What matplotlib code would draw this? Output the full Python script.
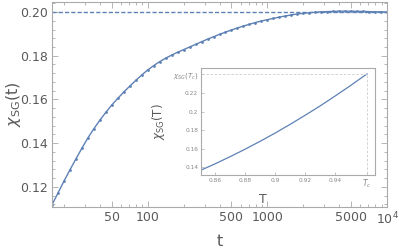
import numpy as np
import matplotlib
matplotlib.use('Agg')
import matplotlib.pyplot as plt
from matplotlib.ticker import FixedLocator, NullFormatter

plt.rcParams['font.family'] = ['DejaVu Sans']
plt.rcParams['mathtext.fontset'] = 'dejavusans'

# main curve: chi_SG(t)
t = [15.85, 17.78, 19.95, 22.39, 25.12, 28.18, 31.62, 35.48, 39.81, 44.67,
     50.12, 56.23, 63.10, 70.79, 79.43, 89.13, 100.0, 112.2, 125.9, 141.3,
     158.5, 177.8, 199.5, 223.9, 251.2, 281.8, 316.2, 354.8, 398.1, 446.7,
     501.2, 562.3, 631.0, 707.9, 794.3, 891.3, 1000, 1122, 1259, 1413,
     1585, 1778, 1995, 2239, 2512, 2818, 3162, 3548, 3981, 4467,
     5012, 5623, 6310, 7079, 7943, 8913, 10000]
chi_t = [0.1118, 0.1172, 0.1226, 0.1278, 0.1328, 0.1377, 0.1424, 0.1466, 0.1505, 0.1541,
         0.1575, 0.1605, 0.1634, 0.1661, 0.1687, 0.1712, 0.1735, 0.1755, 0.1773, 0.1789,
         0.1803, 0.1816, 0.1828, 0.1840, 0.1852, 0.1864, 0.1876, 0.1887, 0.1898, 0.1908,
         0.1918, 0.1927, 0.1936, 0.1944, 0.1952, 0.1959, 0.1965, 0.1971, 0.1977, 0.1982,
         0.1987, 0.1991, 0.1994, 0.1997, 0.1999, 0.2001, 0.2002, 0.2003, 0.2004, 0.2004,
         0.2004, 0.2003, 0.2003, 0.2002, 0.2001, 0.2001, 0.2000]
chi_inf = 0.20

# inset: chi_SG(T)
T = [0.851, 0.86, 0.87, 0.88, 0.89, 0.90, 0.91, 0.92, 0.93, 0.94, 0.95, 0.96, 0.9615]
chi_T = [0.1369, 0.1434, 0.1511, 0.1592, 0.1677, 0.1766, 0.1860, 0.1958, 0.2059,
         0.2166, 0.2276, 0.2391, 0.2405]
Tc = 0.9615
chi_Tc = 0.2405

blue = '#5E81B5'
grey = '#5A5A5A'
frame = '#AAAAAA'

fig = plt.figure(figsize=(3.99, 2.49), dpi=100)
ax = fig.add_axes([0.1303, 0.1687, 0.8397, 0.8233])

ax.axhline(chi_inf, color=blue, lw=1.0, ls=(0, (3, 1.5)))
ax.plot(t, chi_t, color=blue, lw=1.0, marker='o', ms=2.0, mew=0)
ax.set_xscale('log')
ax.set_xlim(15.85, 1e4)
ax.set_ylim(0.1108, 0.2046)

ax.xaxis.set_major_locator(FixedLocator([50, 100, 500, 1000, 5000, 10000]))
ax.set_xticklabels(['50', '100', '500', '1000', '5000', r'$10^4$'])
minor_x = [20, 30, 40, 60, 70, 80, 90, 200, 300, 400, 600, 700, 800, 900,
           2000, 3000, 4000, 6000, 7000, 8000, 9000]
ax.xaxis.set_minor_locator(FixedLocator(minor_x))
ax.xaxis.set_minor_formatter(NullFormatter())
ax.set_yticks([0.12, 0.14, 0.16, 0.18, 0.20])
ax.set_yticklabels(['0.12', '0.14', '0.16', '0.18', '0.20'])
ax.yaxis.set_minor_locator(FixedLocator(np.arange(0.112, 0.205, 0.004)))

ax.tick_params(which='both', direction='in', top=True, right=True, colors=frame,
               labelcolor=grey, labelsize=9, width=0.6, pad=3)
ax.tick_params(which='major', length=4)
ax.tick_params(which='minor', length=2)
for s in ax.spines.values():
    s.set_color(frame)
    s.set_linewidth(0.8)

ax.set_xlabel('t', fontsize=11.5, color=grey)
ax.xaxis.set_label_coords(0.5, -0.13)
ax.set_ylabel(r'$\chi_{\rm SG}(\rm t)$', fontsize=11.5, color=grey)
ax.yaxis.set_label_coords(-0.088, 0.5)

# inset
ins = fig.add_axes([0.5038, 0.2972, 0.4360, 0.4297])
ins.plot(T, chi_T, color=blue, lw=0.9)
ins.plot([0.84, Tc], [chi_Tc, chi_Tc], color='#CCCCCC', lw=0.6, ls=(0, (3, 2)))
ins.plot([Tc, Tc], [0.12, chi_Tc], color='#CCCCCC', lw=0.6, ls=(0, (3, 2)))
ins.set_xlim(0.8507, 0.9667)
ins.set_ylim(0.1314, 0.247)
ins.set_xticks([0.86, 0.88, 0.90, 0.92, 0.94, Tc])
ins.set_xticklabels(['0.86', '0.88', '0.9', '0.92', '0.94', r'$T_c$'])
ins.set_yticks([0.14, 0.16, 0.18, 0.20, 0.22, chi_Tc])
ins.set_yticklabels(['0.14', '0.16', '0.18', '0.2', '0.22', r'$\chi_{SG}(T_c)$'])
ins.tick_params(direction='in', length=2, width=0.5, colors=frame,
                labelcolor='#888888', labelsize=4.2, pad=2)
ins.get_xticklabels()[-1].set_fontsize(5.5)
ins.get_yticklabels()[-1].set_fontsize(5)
for s in ins.spines.values():
    s.set_color(frame)
    s.set_linewidth(0.8)
ins.set_xlabel('T', fontsize=9, color=grey)
ins.xaxis.set_label_coords(0.356, -0.17)
ins.set_ylabel(r'$\chi_{\rm SG}(\rm T)$', fontsize=8.5, color=grey)
ins.yaxis.set_label_coords(-0.195, 0.5)

fig.savefig('out.png', dpi=100)
